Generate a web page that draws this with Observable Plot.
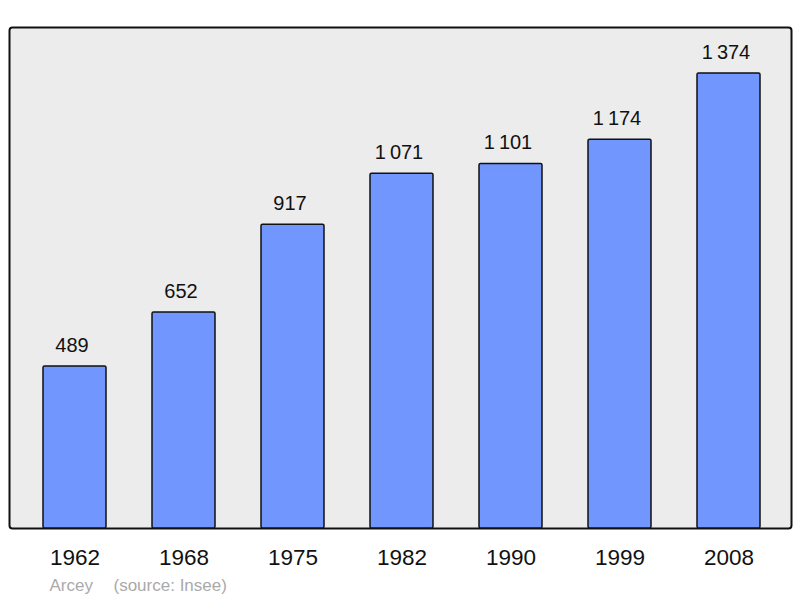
<!DOCTYPE html>
<html>
<head>
<meta charset="utf-8">
<script src="https://cdn.jsdelivr.net/npm/d3@7"></script>
<script src="https://cdn.jsdelivr.net/npm/@observablehq/plot@0.6"></script>
<style>
  html, body { margin: 0; padding: 0; background: #fff; }
  #chart svg { display: block; }
</style>
</head>
<body>
<div id="chart"></div>
<script>
const years = ["1962", "1968", "1975", "1982", "1990", "1999", "2008"];
const population = [489, 652, 917, 1071, 1101, 1174, 1374];
const valueLabels = ["489", "652", "917", "1\u2009071", "1\u2009101", "1\u2009174", "1\u2009374"];
const captionParts = ["Arcey", "(source: Insee)"];
const captionX = [49, 113];

const data = years.map((year, i) => ({year, pop: population[i], label: valueLabels[i]}));

const chart = Plot.plot({
  width: 800,
  height: 598,
  marginTop: 27,
  marginBottom: 70,
  marginLeft: 9,
  marginRight: 9,
  style: {fontFamily: "'Liberation Sans', Arial, sans-serif", background: "#fff"},
  x: {type: "band", domain: years, range: [42, 761], paddingInner: 0.424, paddingOuter: 0, axis: null},
  y: {domain: [0, 1513], axis: null},
  marks: [
    Plot.frame({fill: "#ececec", stroke: "#111", strokeWidth: 2, rx: 3}),
    Plot.barY(data, {x: "year", y: "pop", fill: "#7197ff", stroke: "#111", strokeWidth: 1.5, rx: 1.5}),
    Plot.text(data, {x: "year", y: "pop", text: "label", dx: -3, dy: -15, lineAnchor: "bottom", fontSize: 20, fill: "#111"}),
    Plot.text(data, {x: "year", y: () => 0, text: "year", dy: 36, lineAnchor: "bottom", fontSize: 22.5, fill: "#111"}),
    ...captionParts.map((part, i) => Plot.text([part], {
      text: d => d, frameAnchor: "bottom-left", textAnchor: "start",
      dx: captionX[i] - 9, dy: 62, lineAnchor: "bottom", fontSize: 17, fill: "#aaaaaa"
    }))
  ]
});
document.getElementById("chart").appendChild(chart);
</script>
</body>
</html>
